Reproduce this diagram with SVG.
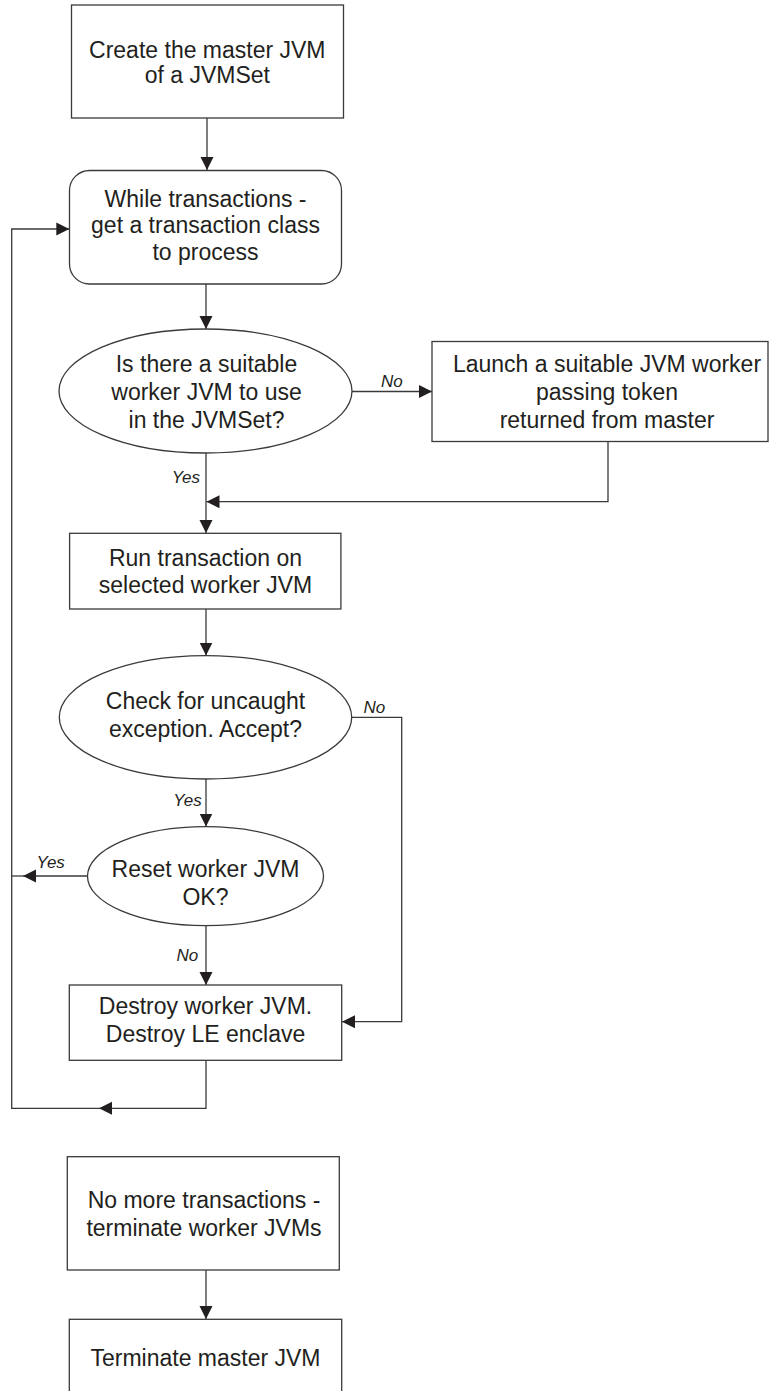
<svg xmlns="http://www.w3.org/2000/svg" width="769" height="1391" viewBox="0 0 769 1391">
<style>
.shape{fill:#fff;stroke:#3a3a3a;stroke-width:1.3}
.t{font-family:"Liberation Sans",Arial,sans-serif;font-size:23px;fill:#231f20;text-anchor:middle}
.lbl{font-family:"Liberation Sans",Arial,sans-serif;font-size:17px;font-style:italic;fill:#231f20}
.c{fill:none;stroke:#3a3a3a;stroke-width:1.3}
</style>
<defs>
<marker id="ah" markerUnits="userSpaceOnUse" markerWidth="14" markerHeight="14" viewBox="0 0 14 14" refX="13" refY="7" orient="auto">
<path d="M0,0.5 L13,7 L0,13.5 Z" fill="#231f20"/>
</marker>
</defs>
<g id="connectors">
<path class="c" d="M207,118 V170" marker-end="url(#ah)"/>
<path class="c" d="M206,284 V329" marker-end="url(#ah)"/>
<path class="c" d="M352,391.5 H432" marker-end="url(#ah)"/>
<path class="c" d="M608,441.5 V501.7 H206.5" marker-end="url(#ah)"/>
<path class="c" d="M206,453 V533" marker-end="url(#ah)"/>
<path class="c" d="M206,609 V655.5" marker-end="url(#ah)"/>
<path class="c" d="M206,779 V826.5" marker-end="url(#ah)"/>
<path class="c" d="M206,925.7 V985" marker-end="url(#ah)"/>
<path class="c" d="M351.7,717.3 H401.7 V1021.7 H342" marker-end="url(#ah)"/>
<path class="c" d="M87.5,876 H23" marker-end="url(#ah)"/>
<path class="c" d="M23,876 H11.7"/>
<path class="c" d="M206,1060.3 V1108.3 H99" marker-end="url(#ah)"/>
<path class="c" d="M99,1108.3 H11.7 V229 H69.3" marker-end="url(#ah)"/>
<path class="c" d="M206,1270 V1319" marker-end="url(#ah)"/>
<text class="lbl" x="381" y="387">No</text>
<text class="lbl" x="200" y="483" text-anchor="end">Yes</text>
<text class="lbl" x="363.5" y="713.3">No</text>
<text class="lbl" x="201.7" y="806" text-anchor="end">Yes</text>
<text class="lbl" x="36.5" y="868.3">Yes</text>
<text class="lbl" x="198.3" y="961" text-anchor="end">No</text>
</g>
<g id="create-master">
<rect class="shape" x="71.5" y="5" width="272" height="113"/>
<text class="t" x="207.3" y="58.3">Create the master JVM</text>
<text class="t" x="207.3" y="83.3">of a JVMSet</text>
</g>
<g id="while-transactions">
<rect class="shape" x="69.5" y="170.5" width="272" height="113.5" rx="20" ry="20"/>
<text class="t" x="205.5" y="207.3">While transactions -</text>
<text class="t" x="205.5" y="233.3">get a transaction class</text>
<text class="t" x="205.5" y="260">to process</text>
</g>
<g id="suitable-worker">
<ellipse class="shape" cx="205.5" cy="391" rx="146.5" ry="62"/>
<text class="t" x="206.5" y="371.7">Is there a suitable</text>
<text class="t" x="206.5" y="400">worker JVM to use</text>
<text class="t" x="206.5" y="427.5">in the JVMSet?</text>
</g>
<g id="launch-worker">
<rect class="shape" x="432" y="341.5" width="336" height="100"/>
<text class="t" x="607" y="371.7">Launch a suitable JVM worker</text>
<text class="t" x="607" y="400">passing token</text>
<text class="t" x="607" y="427.5">returned from master</text>
</g>
<g id="run-transaction">
<rect class="shape" x="69.6" y="533.3" width="271.3" height="75.7"/>
<text class="t" x="205.5" y="565.7">Run transaction on</text>
<text class="t" x="205.5" y="593.3">selected worker JVM</text>
</g>
<g id="check-exception">
<ellipse class="shape" cx="205.5" cy="717.3" rx="146.2" ry="61.7"/>
<text class="t" x="205.5" y="709.3">Check for uncaught</text>
<text class="t" x="205.5" y="737.3">exception. Accept?</text>
</g>
<g id="reset-worker">
<ellipse class="shape" cx="205.5" cy="876.2" rx="118" ry="49.5"/>
<text class="t" x="205.5" y="877.3">Reset worker JVM</text>
<text class="t" x="205.5" y="905">OK?</text>
</g>
<g id="destroy-worker">
<rect class="shape" x="69.3" y="985" width="272.4" height="75.3"/>
<text class="t" x="205.5" y="1014.3">Destroy worker JVM.</text>
<text class="t" x="205.5" y="1042.3">Destroy LE enclave</text>
</g>
<g id="no-more-transactions">
<rect class="shape" x="67.3" y="1156.7" width="272" height="113.3"/>
<text class="t" x="204" y="1208.3">No more transactions -</text>
<text class="t" x="204" y="1236">terminate worker JVMs</text>
</g>
<g id="terminate-master">
<rect class="shape" x="69.3" y="1319.3" width="272.4" height="90"/>
<text class="t" x="205.5" y="1366">Terminate master JVM</text>
</g>
</svg>
